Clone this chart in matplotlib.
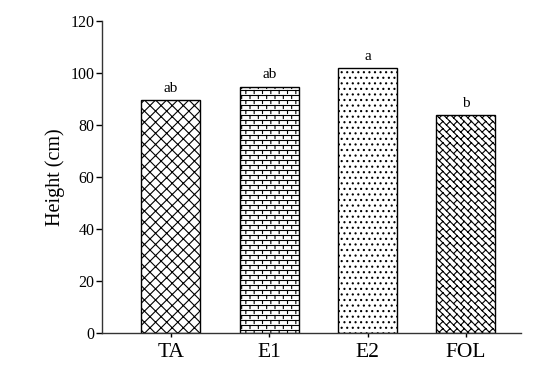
import numpy as np
import matplotlib
matplotlib.use('Agg')
import matplotlib.pyplot as plt
import matplotlib.hatch as mhatch

# ---- data ----
treatments = ['TA', 'E1', 'E2', 'FOL']
heights = [89.5, 94.7, 101.8, 83.7]
letters = ['ab', 'ab', 'a', 'b']
hatches = ['xxx', 'B', '...', 'W']


# ---- two custom hatch textures: bricks (E1) and herringbone weave (FOL) ----
class BrickHatch(mhatch.HatchPatternBase):
    def __init__(self, hatch, density):
        n = hatch.count('B')
        self.rows = 20 * n
        self.cols = 12 * n
        self.num_lines = self.rows * (1 + self.cols)
        self.num_vertices = self.num_lines * 2

    def set_vertices_and_codes(self, vertices, codes):
        h = 1.0 / self.rows
        w = 1.0 / self.cols
        k = 0
        for i in range(self.rows):
            y = (i + 0.9) * h   # keep every row inside the tile
            vertices[k] = (0, y)
            vertices[k + 1] = (1, y)
            k += 2
            off = 0.5 * w * (i % 2)
            for j in range(self.cols):
                xx = j * w + off
                vertices[k] = (xx, y)
                vertices[k + 1] = (xx, y - 0.6 * h)
                k += 2
        codes[0::2] = mhatch.Path.MOVETO
        codes[1::2] = mhatch.Path.LINETO


class WeaveHatch(mhatch.HatchPatternBase):
    def __init__(self, hatch, density):
        n = hatch.count('W')
        self.cells = 14 * n
        self.num_lines = self.cells * self.cells * 2
        self.num_vertices = self.num_lines * 2

    def set_vertices_and_codes(self, vertices, codes):
        s = 1.0 / self.cells
        k = 0
        for i in range(self.cells):
            for j in range(self.cells):
                x0, y0 = i * s, j * s
                vertices[k] = (x0, y0 + s)
                vertices[k + 1] = (x0 + s, y0)
                vertices[k + 2] = (x0 + s / 2, y0 + s / 2)
                vertices[k + 3] = (x0 + s, y0 + s)
                k += 4
        codes[0::2] = mhatch.Path.MOVETO
        codes[1::2] = mhatch.Path.LINETO


mhatch._hatch_types.extend([BrickHatch, WeaveHatch])
mhatch._validate_hatch_pattern = lambda hatch: None

plt.rcParams.update({
    'font.family': 'Liberation Serif',
    'hatch.linewidth': 0.8,
    'hatch.color': 'black',
})

fig = plt.figure(figsize=(5.55, 3.79), dpi=100)
ax = fig.add_axes([0.1838, 0.1214, 0.7549, 0.824])

x = np.arange(len(treatments))
bars = ax.bar(x, heights, width=0.6, color='white', edgecolor='black', linewidth=1.0)
for b, h in zip(bars, hatches):
    b.set_hatch(h)

for xi, h, lab in zip(x, heights, letters):
    ax.text(xi, h + 2.0, lab, ha='center', va='bottom', fontsize=11)

ax.set_xlim(-0.7, 3.56)
ax.set_ylim(0, 120)
ax.set_yticks(np.arange(0, 121, 20))
ax.set_xticks(x)
ax.set_xticklabels(treatments, fontsize=15.5)
ax.tick_params(axis='y', labelsize=11.5, length=4, width=1, pad=1.5, direction='out')
ax.tick_params(axis='x', length=3, width=1, pad=4)
ax.set_ylabel('Height (cm)', fontsize=14.5, labelpad=4)

ax.spines['top'].set_visible(False)
ax.spines['right'].set_visible(False)
for sp in ('left', 'bottom'):
    ax.spines[sp].set_linewidth(1.0)
    ax.spines[sp].set_color('#333333')

fig.savefig('out.png', dpi=100)
